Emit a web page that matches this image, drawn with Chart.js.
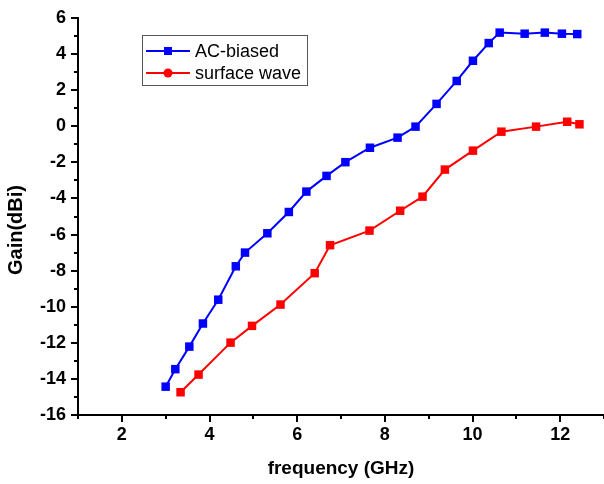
<!DOCTYPE html>
<html>
<head>
<meta charset="utf-8">
<script src="https://cdn.jsdelivr.net/npm/chart.js@4/dist/chart.umd.min.js"></script>
<style>
html,body{margin:0;padding:0;background:#fff;}
#wrap{width:604px;height:484px;position:relative;}
</style>
</head>
<body>
<div id="wrap"><canvas id="c" width="604" height="484"></canvas></div>
<script>
const seriesNames = ['AC-biased', 'surface wave'];
const acFreq = [3.00,3.22,3.54,3.85,4.20,4.60,4.81,5.32,5.81,6.21,6.67,7.10,7.66,8.29,8.70,9.18,9.64,10.01,10.37,10.62,11.19,11.65,12.04,12.39];
const acGain = [-14.43,-13.46,-12.21,-10.93,-9.61,-7.76,-7.00,-5.93,-4.75,-3.62,-2.75,-1.99,-1.19,-0.63,-0.02,1.24,2.51,3.63,4.61,5.19,5.13,5.19,5.13,5.11];
const swFreq = [3.34,3.75,4.48,4.97,5.62,6.40,6.75,7.65,8.35,8.86,9.37,10.01,10.66,11.45,12.16,12.44];
const swGain = [-14.74,-13.76,-11.99,-11.06,-9.88,-8.14,-6.59,-5.78,-4.68,-3.90,-2.40,-1.35,-0.30,-0.02,0.25,0.11];
const xTitle = 'frequency (GHz)';
const yTitle = 'Gain(dBi)';

const toPts = (xs, ys) => xs.map((x, i) => ({x: x, y: ys[i]}));
const FONT = "'Liberation Sans', Arial, sans-serif";

const decor = {
  id: 'decor',
  afterDraw(chart) {
    const ctx = chart.ctx;
    const xs = chart.scales.x, ys = chart.scales.y;
    const ca = chart.chartArea;
    ctx.save();
    ctx.strokeStyle = '#000';
    ctx.lineWidth = 2;
    for (let v = xs.min; v <= xs.max; v++) {
      const p = Math.round(xs.getPixelForValue(v));
      const len = v % 2 === 0 ? 7 : 4;
      ctx.beginPath(); ctx.moveTo(p, ca.bottom); ctx.lineTo(p, ca.bottom + len); ctx.stroke();
    }
    for (let v = ys.min; v <= ys.max; v++) {
      const p = Math.round(ys.getPixelForValue(v));
      const len = v % 2 === 0 ? 7 : 4;
      ctx.beginPath(); ctx.moveTo(ca.left, p); ctx.lineTo(ca.left - len, p); ctx.stroke();
    }
    // y title
    ctx.fillStyle = '#000';
    ctx.font = 'bold 20px ' + FONT;
    ctx.textAlign = 'center';
    ctx.textBaseline = 'middle';
    ctx.translate(16, 230);
    ctx.rotate(-Math.PI / 2);
    ctx.fillText(yTitle, 0, 0);
    ctx.restore();

    // legend
    ctx.save();
    const bx = 142, by = 35, bw = 165, bh = 50;
    ctx.strokeStyle = '#555';
    ctx.lineWidth = 1;
    ctx.strokeRect(bx + 0.5, by + 0.5, bw, bh);
    chart.data.datasets.forEach((ds, i) => {
      const yy = by + 16 + i * 22;
      ctx.strokeStyle = ds.borderColor;
      ctx.lineWidth = 2;
      ctx.beginPath(); ctx.moveTo(bx + 4, yy); ctx.lineTo(bx + 48, yy); ctx.stroke();
      ctx.fillStyle = ds.borderColor;
      if (i === 0) {
        ctx.fillRect(bx + 22, yy - 4, 8, 8);
      } else {
        ctx.beginPath(); ctx.arc(bx + 26, yy, 4.5, 0, Math.PI * 2); ctx.fill();
      }
      ctx.fillStyle = '#000';
      ctx.font = '18px ' + FONT;
      ctx.textAlign = 'left';
      ctx.textBaseline = 'middle';
      ctx.fillText(ds.label, bx + 53, yy + 1);
    });
    ctx.restore();
  }
};

new Chart(document.getElementById('c'), {
  type: 'line',
  data: {
    datasets: [
      {label: seriesNames[0], data: toPts(acFreq, acGain), borderColor: '#0000ff', backgroundColor: '#0000ff',
       borderWidth: 2, pointStyle: 'rect', pointRadius: 6, pointBorderWidth: 0, tension: 0},
      {label: seriesNames[1], data: toPts(swFreq, swGain), borderColor: '#ff0000', backgroundColor: '#ff0000',
       borderWidth: 2, pointStyle: 'rect', pointRadius: 6, pointBorderWidth: 0, tension: 0}
    ]
  },
  options: {
    responsive: false,
    animation: false,
    layout: {autoPadding: false, padding: {top: 18, right: 0, left: 0, bottom: 0}},
    plugins: {legend: {display: false}, tooltip: {enabled: false}},
    scales: {
      x: {
        type: 'linear', min: 1, max: 13,
        grid: {display: true, drawOnChartArea: false, drawTicks: true, tickLength: 7, color: 'rgba(0,0,0,0)'},
        border: {display: true, color: '#000', width: 2},
        ticks: {stepSize: 1, autoSkip: false, maxRotation: 0, padding: 2, color: '#000',
                font: {family: FONT, size: 18, weight: 'bold'},
                callback: v => (v % 2 === 0 ? String(v) : '')},
        title: {display: true, text: xTitle, color: '#000', font: {family: FONT, size: 19, weight: 'bold'},
                padding: {top: 0, bottom: 4}},
        afterFit: s => { s.height = 69; s.paddingRight = 0; s.paddingLeft = 0; }
      },
      y: {
        type: 'linear', min: -16, max: 6,
        grid: {display: true, drawOnChartArea: false, drawTicks: true, tickLength: 7, color: 'rgba(0,0,0,0)'},
        border: {display: true, color: '#000', width: 2},
        ticks: {stepSize: 1, autoSkip: false, padding: 5, color: '#000',
                font: {family: FONT, size: 18, weight: 'bold'},
                callback: v => (v % 2 === 0 ? String(v) : '')},
        afterFit: s => { s.width = 78; s.paddingTop = 0; s.paddingBottom = 0; }
      }
    }
  },
  plugins: [decor]
});
</script>
</body>
</html>
